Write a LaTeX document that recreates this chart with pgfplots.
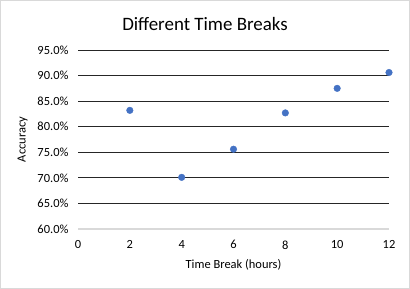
\documentclass[border=0pt]{standalone}
\usepackage{pgfplots}
\pgfplotsset{compat=1.18}
\usepackage{fontspec}
\setmainfont{Carlito}
\definecolor{dot}{HTML}{4472C4}
\definecolor{frame}{HTML}{D9D9D9}
\definecolor{gridc}{HTML}{262626}
\begin{document}
\begin{tikzpicture}[x=1bp,y=1bp]
\draw[frame, line width=1bp, fill=white] (0.5,0.5) rectangle (409.5,288.5);
\node[font=\fontsize{19}{22}\selectfont, anchor=center] at (205,265.5) {Different Time Breaks};
\begin{axis}[
  at={(78bp,60bp)}, anchor=south west,
  scale only axis, width=311bp, height=179bp,
  xmin=0, xmax=12, ymin=0.6, ymax=0.95,
  xtick={0,2,...,12},
  ytick={0.6,0.65,0.7,0.75,0.8,0.85,0.9,0.95},
  yticklabels={60.0\%,65.0\%,70.0\%,75.0\%,80.0\%,85.0\%,90.0\%,95.0\%},
  /pgf/number format/assume math mode=true,
  tick label style={font=\fontsize{12.5}{14}\selectfont},
  ymajorgrids, major grid style={gridc, line width=0.8bp},
  axis line style={draw=none},
  major tick length=0pt,
  xticklabel style={yshift=-8bp},
  yticklabel style={xshift=-6bp},
  xlabel={Time Break (hours)},
  ylabel={Accuracy},
  label style={font=\fontsize{12.5}{14}\selectfont},
  xlabel style={yshift=-3bp},
  ylabel style={yshift=3bp},
  clip=false,
]
\draw[frame, line width=1.2bp] (axis cs:0,0.6) -- (axis cs:12,0.6);
\addplot[only marks, mark=*, mark size=3.3bp, color=dot] coordinates {
  (2,0.832) (4,0.701) (6,0.756) (8,0.827) (10,0.875) (12,0.906)
};
\end{axis}
\end{tikzpicture}
\end{document}
